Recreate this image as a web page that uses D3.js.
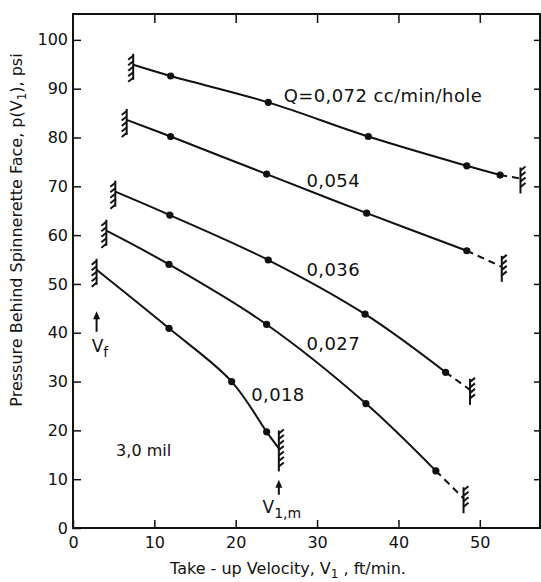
<!DOCTYPE html>
<html>
<head>
<meta charset="utf-8">
<script src="https://cdn.jsdelivr.net/npm/d3@7"></script>
<style>
body { margin: 0; background: #fff; }
svg text { font-family: "DejaVu Sans", sans-serif; fill: #111; }
</style>
</head>
<body>
<script>
// flow rates, cc/min/hole
var flowLabels = ["Q=0,072 cc/min/hole", "0,054", "0,036", "0,027", "0,018"];

// [take-up velocity ft/min, pressure psi]; first = V_f wall, last = V1,m wall
var q072 = [[7.4, 94.9], [12.0, 92.6], [24.0, 87.2], [36.3, 80.2], [48.4, 74.2], [52.5, 72.3], [55.0, 71.6]];
var q054 = [[6.6, 83.6], [12.0, 80.2], [23.8, 72.5], [36.1, 64.5], [48.4, 56.8], [52.7, 53.5]];
var q036 = [[5.2, 68.9], [11.9, 64.1], [24.0, 54.9], [35.9, 43.8], [45.8, 31.9], [48.8, 28.3]];
var q027 = [[4.1, 60.9], [11.8, 54.0], [23.8, 41.7], [36.0, 25.5], [44.6, 11.7], [48.0, 6.1]];
var q018 = [[2.9, 52.9], [11.8, 40.9], [19.5, 30.0], [23.8, 19.7], [25.3, 16.3]];

var xTicks = [0, 10, 20, 30, 40, 50];
var yTicks = [0, 10, 20, 30, 40, 50, 60, 70, 80, 90, 100];

var series = [
  {pts: q072, label: flowLabels[0], lab: [25.9, 87.3], dashEnd: true},
  {pts: q054, label: flowLabels[1], lab: [28.7, 69.8], dashEnd: true},
  {pts: q036, label: flowLabels[2], lab: [28.7, 51.7], dashEnd: true},
  {pts: q027, label: flowLabels[3], lab: [28.7, 36.4], dashEnd: true},
  {pts: q018, label: flowLabels[4], lab: [21.9, 26.1], dashEnd: false}
];

var W = 541, H = 582;
var margin = {top: 14, right: 1, bottom: 54, left: 73};

var x = d3.scaleLinear().domain([0, 57.4]).range([margin.left, W - margin.right]);
var y = d3.scaleLinear().domain([0, 105.3]).range([H - margin.bottom, margin.top]);

var svg = d3.select("body").append("svg")
    .attr("width", W)
    .attr("height", H);

// frame
svg.append("rect")
    .attr("x", x(0)).attr("y", y(105.3))
    .attr("width", x(57.4) - x(0)).attr("height", y(0) - y(105.3))
    .attr("fill", "none").attr("stroke", "#111").attr("stroke-width", 2);

var yAxis = d3.axisLeft(y).tickValues(yTicks).tickSize(-8).tickPadding(5);
var xAxis = d3.axisBottom(x).tickValues(xTicks).tickSize(-8).tickPadding(9);

svg.append("g").attr("transform", "translate(" + x(0) + ",0)").call(yAxis);
svg.append("g").attr("transform", "translate(0," + y(0) + ")").call(xAxis);
svg.append("g").attr("transform", "translate(0," + y(105.3) + ")")
    .call(d3.axisTop(x).tickValues(xTicks.slice(1)).tickSize(-9).tickFormat(""));
svg.append("g").attr("transform", "translate(" + x(57.4) + ",0)")
    .call(d3.axisRight(y).tickValues(yTicks.slice(1)).tickSize(-6).tickFormat(""));

svg.selectAll(".domain").remove();
svg.selectAll(".tick line").attr("stroke", "#111").attr("stroke-width", 1.5);
svg.selectAll(".tick text").attr("font-size", 16).style("font-family", "DejaVu Sans");

// curves
var line = d3.line()
    .x(function(d) { return x(d[0]); })
    .y(function(d) { return y(d[1]); })
    .curve(d3.curveCatmullRom.alpha(0.5));

series.forEach(function(s) {
  var n = s.pts.length;
  var solid = s.dashEnd ? s.pts.slice(0, n - 1) : s.pts;
  svg.append("path")
      .attr("d", line(solid))
      .attr("fill", "none").attr("stroke", "#111").attr("stroke-width", 2);
  if (s.dashEnd) {
    svg.append("path")
        .attr("d", line(s.pts.slice(n - 2)))
        .attr("fill", "none").attr("stroke", "#111").attr("stroke-width", 2)
        .attr("stroke-dasharray", "7,5");
  }
  // measured points
  svg.selectAll(null)
      .data(s.pts.slice(1, n - 1))
      .enter().append("circle")
      .attr("cx", function(d) { return x(d[0]); })
      .attr("cy", function(d) { return y(d[1]); })
      .attr("r", 3.6)
      .attr("fill", "#111");

  // start wall (V_f): hatches on the left
  var a = s.pts[0], ax = x(a[0]), ay = y(a[1]);
  var h = svg.append("g").attr("stroke", "#111").attr("stroke-width", 2).attr("fill", "none");
  h.append("line").attr("x1", ax).attr("x2", ax).attr("y1", ay - 11).attr("y2", ay + 15);
  for (var i = 0; i < 5; i++) {
    var yy = ay - 9 + i * 5.5;
    h.append("line").attr("x1", ax).attr("y1", yy).attr("x2", ax - 5).attr("y2", yy + 4);
  }
  // end wall (V1,m): hatches on the right
  var b = s.pts[n - 1], bx = x(b[0]), by = y(b[1]);
  var top = s.dashEnd ? by - 11 : by - 18, bot = s.dashEnd ? by + 15 : by + 23;
  h.append("line").attr("x1", bx).attr("x2", bx).attr("y1", top).attr("y2", bot);
  for (var yy = top + 3; yy < bot - 2; yy += 5.5) {
    h.append("line").attr("x1", bx).attr("y1", yy).attr("x2", bx + 5).attr("y2", yy - 4);
  }

  svg.append("text")
      .attr("x", x(s.lab[0])).attr("y", y(s.lab[1]))
      .attr("font-size", 18)
      .attr("letter-spacing", 0.4)
      .text(s.label);
});

// arrows
function arrow(vx, y1, y2) {
  svg.append("line").attr("x1", x(vx)).attr("x2", x(vx)).attr("y1", y1).attr("y2", y2 + 5)
      .attr("stroke", "#111").attr("stroke-width", 2);
  svg.append("path")
      .attr("d", "M" + x(vx) + "," + y2 + " l-3.5,8 l7,0 z")
      .attr("fill", "#111");
}
arrow(q018[0][0], y(40.2), y(44.4));
arrow(q018[q018.length - 1][0], y(6.8), y(9.9));

var vf = svg.append("text").attr("x", x(2.3)).attr("y", y(36.0)).attr("font-size", 17);
vf.append("tspan").text("V");
vf.append("tspan").attr("dy", 5).attr("font-size", 14).text("f");

var vm = svg.append("text").attr("x", x(23.3)).attr("y", y(3.0)).attr("font-size", 17);
vm.append("tspan").text("V");
vm.append("tspan").attr("dy", 5).attr("font-size", 14).text("1,m");

svg.append("text").attr("x", x(5.3)).attr("y", y(14.8)).attr("font-size", 16).text("3,0 mil");

// axis titles
var xt = svg.append("text")
    .attr("x", 288).attr("y", 574)
    .attr("text-anchor", "middle").attr("font-size", 16);
xt.append("tspan").text("Take - up  Velocity,  V");
xt.append("tspan").attr("dy", 4).attr("font-size", 12).text("1");
xt.append("tspan").attr("dy", -4).text("  ,  ft/min.");

var yt = svg.append("text")
    .attr("transform", "translate(22,230) rotate(-90)")
    .attr("text-anchor", "middle").attr("font-size", 16);
yt.append("tspan").text("Pressure Behind Spinnerette Face, p(V");
yt.append("tspan").attr("dy", 4).attr("font-size", 12).text("1");
yt.append("tspan").attr("dy", -4).text("), psi");
</script>
</body>
</html>
